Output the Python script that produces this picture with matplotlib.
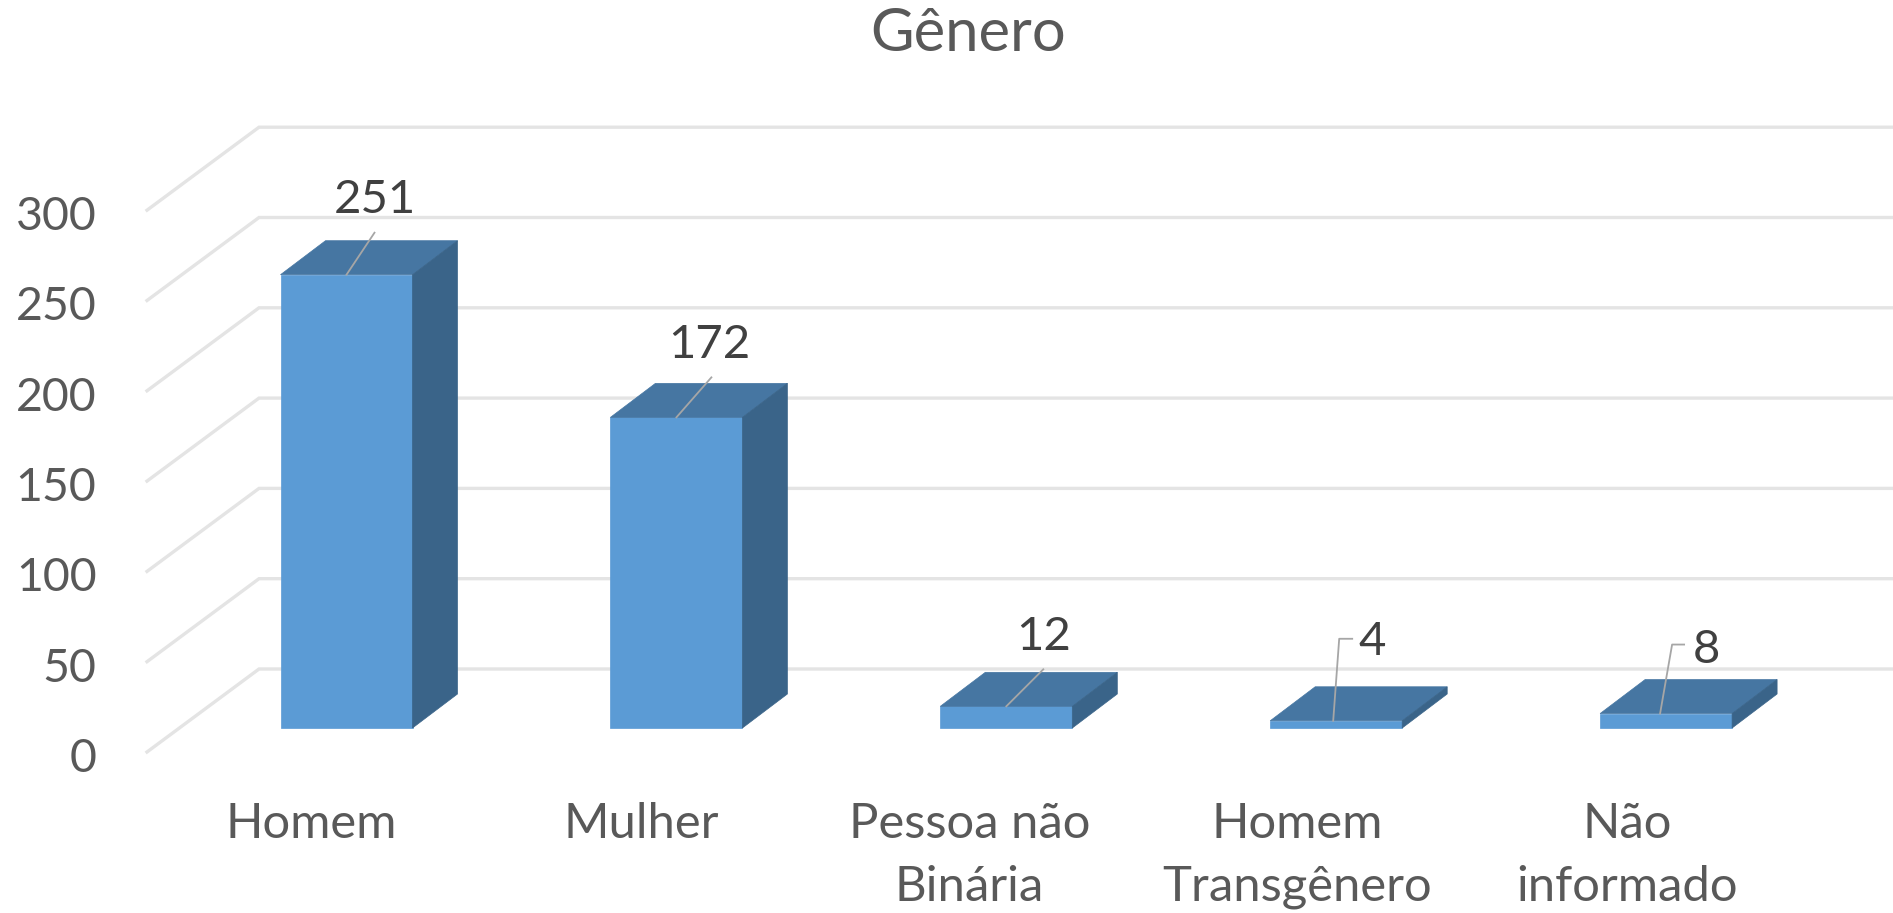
import matplotlib
matplotlib.use("Agg")
import matplotlib.pyplot as plt
from matplotlib.patches import Polygon

categories = ["Homem", "Mulher", "Pessoa não\nBinária", "Homem\nTransgênero", "Não\ninformado"]
values = [251, 172, 12, 4, 8]
y_ticks = [0, 50, 100, 150, 200, 250, 300]
title = "Gênero"

# Leader line bends and label centres, in pixels from the top front centre of each bar
leaders = [
    [(0, 0), (28, -42)],
    [(0, 0), (35, -40)],
    [(0, 0), (37, -37)],
    [(-3, 0), (3, -82), (16, -82)],
    [(-6, 0), (6, -69), (18, -69)],
]
label_offsets = [(28, -75), (33, -72), (37, -69), (36, -79), (40, -64)]
# category labels sit left of their bars, a bit more towards the right
cat_shifts = [-35, -35, -37, -39, -39]

W, H = 1893, 913
X0, X_STEP = 346.5, 329.9   # pixel of category 0, pixels per category
Y0, Y_STEP = 728.0, 1.806   # pixel of value 0, pixels per unit

BAR_W = 66 / X_STEP
DEPTH_X, DEPTH_Y = 45 / X_STEP, 34 / Y_STEP
WALL_FRONT_X, WALL_BACK_X = (147 - X0) / X_STEP, (259 - X0) / X_STEP
WALL_FRONT_Y, WALL_BACK_Y = -24 / Y_STEP, 59 / Y_STEP

FRONT = "#5B9BD5"
TOP = "#4676A2"
SIDE = "#3A6489"
GRID = "#E4E4E4"
TEXT = "#595959"
LABEL = "#404040"
FONT = "Lato"

fig = plt.figure(figsize=(W / 100, H / 100), dpi=100)
ax = fig.add_axes([0, 0, 1, 1])
ax.set_xlim(-X0 / X_STEP, (W - X0) / X_STEP)
ax.set_ylim(-(H - Y0) / Y_STEP, Y0 / Y_STEP)
ax.axis("off")

# back wall gridlines and the diagonal part on the side wall
for t in y_ticks:
    ax.plot([WALL_FRONT_X, WALL_BACK_X, ax.get_xlim()[1]],
            [t + WALL_FRONT_Y, t + WALL_BACK_Y, t + WALL_BACK_Y],
            color=GRID, lw=2.4, zorder=1, solid_joinstyle="miter")
    ax.text(-0.758, t + WALL_FRONT_Y - 7 / Y_STEP, str(t), ha="right", va="center",
            fontsize=33.5, color=TEXT, family=FONT)

for i, v in enumerate(values):
    l, r = i - BAR_W, i + BAR_W
    ax.add_patch(Polygon([(l, 0), (r, 0), (r, v), (l, v)], fc=FRONT, ec=FRONT, lw=0.5, zorder=3))
    ax.add_patch(Polygon([(l, v), (r, v), (r + DEPTH_X, v + DEPTH_Y), (l + DEPTH_X, v + DEPTH_Y)],
                         fc=TOP, ec=TOP, lw=0.5, zorder=3))
    ax.add_patch(Polygon([(r, 0), (r + DEPTH_X, DEPTH_Y), (r + DEPTH_X, v + DEPTH_Y), (r, v)],
                         fc=SIDE, ec=SIDE, lw=0.5, zorder=3))

    xs = [i + p[0] / X_STEP for p in leaders[i]]
    ys = [v - p[1] / Y_STEP for p in leaders[i]]
    ax.plot(xs, ys, color="#A6A6A6", lw=1.3, zorder=4)
    ox, oy = label_offsets[i]
    ax.text(i + ox / X_STEP, v - oy / Y_STEP, str(v), ha="center", va="center",
            fontsize=34, color=LABEL, family=FONT, zorder=5)

    ax.text(i + cat_shifts[i] / X_STEP, -(802 - Y0) / Y_STEP, categories[i], ha="center", va="top",
            fontsize=35.3, color=TEXT, family=FONT, linespacing=1.52)

ax.text(0.5113, 0.963, title, transform=ax.transAxes, ha="center", va="center",
        fontsize=43, color=TEXT, family=FONT)

fig.savefig("out.png", dpi=100)
